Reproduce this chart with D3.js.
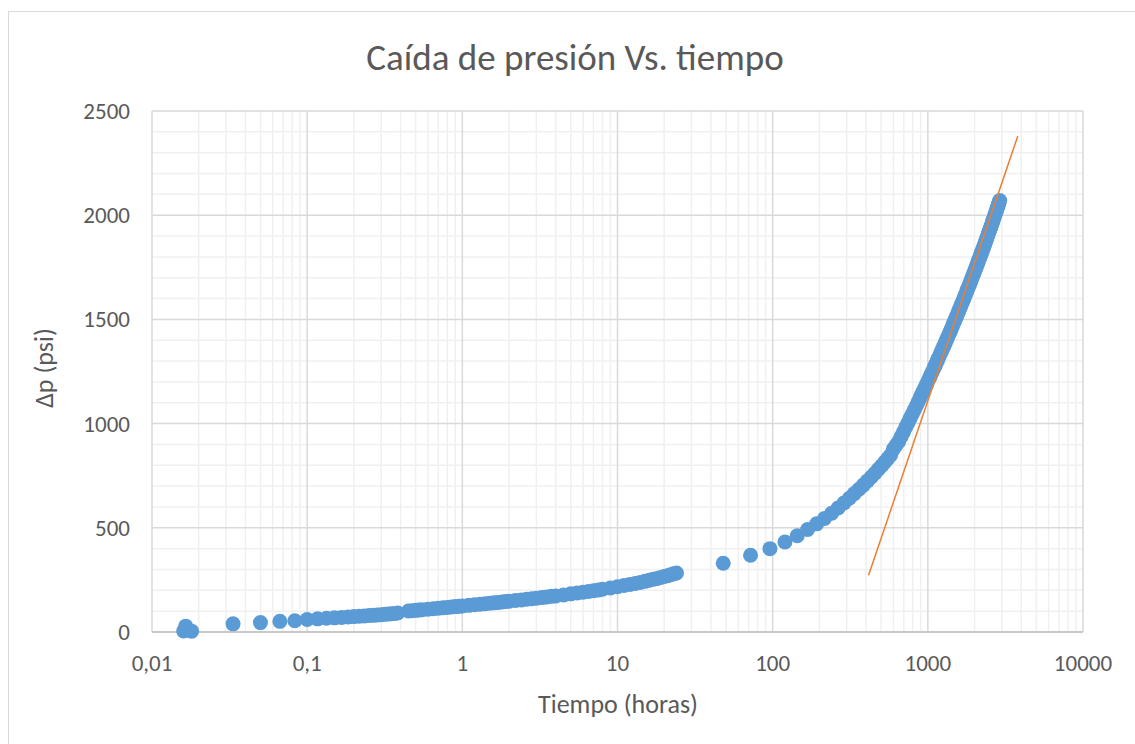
<!DOCTYPE html>
<html>
<head>
<meta charset="utf-8">
<script src="https://cdn.jsdelivr.net/npm/d3@7"></script>
<style>
  body { margin: 0; background: #fff; }
  text { font-family: Calibri, Carlito, Lato, sans-serif; fill: #595959; }
</style>
</head>
<body>
<div id="chart"></div>
<script>
var width = 1135, height = 744

// datos: tiempo (horas) y caida de presion (psi)
var timeHours = [
  0.016, 0.0165, 0.017, 0.018, 0.0333, 0.05, 0.0667, 0.0833,
  0.1, 0.1167, 0.1333, 0.15, 0.1667, 0.1833, 0.2, 0.2167, 0.2333, 0.25, 0.2667, 0.2833, 0.3, 0.3167, 0.3333, 0.35, 0.3667, 0.3833,
  0.45, 0.475, 0.5, 0.525, 0.55, 0.6, 0.65, 0.7, 0.75, 0.8, 0.85, 0.9, 0.95, 1, 1.1, 1.2, 1.3, 1.4, 1.5, 1.6, 1.7, 1.8, 1.9, 2,
  2.2, 2.4, 2.6, 2.8, 3, 3.25, 3.5, 3.75, 4, 4.5, 5, 5.5, 6, 6.5, 7, 7.5, 8, 9, 10, 11, 12, 13, 14, 15, 16, 17, 18, 19, 20, 21, 22, 23, 24,
  48, 72, 96, 120, 144, 168, 192, 216, 240, 264, 288, 312, 336, 360, 384, 408, 432, 456, 480, 504, 528, 552, 576,
  600, 624, 648, 672, 696, 720, 744, 768, 792, 816, 840, 864, 888, 912, 936, 960, 984, 1008, 1032, 1056, 1080, 1104, 1128, 1152,
  1176, 1200, 1224, 1248, 1272, 1296, 1320, 1344, 1368, 1392, 1416, 1440, 1464, 1488, 1512, 1536, 1560, 1584, 1608, 1632, 1656,
  1680, 1704, 1728, 1752, 1776, 1800, 1824, 1848, 1872, 1896, 1920, 1944, 1968, 1992, 2016, 2040, 2064, 2088, 2112, 2136, 2160,
  2184, 2208, 2232, 2256, 2280, 2304, 2328, 2352, 2376, 2400, 2424, 2448, 2472, 2496, 2520, 2544, 2568, 2592, 2616, 2640, 2664,
  2688, 2712, 2736, 2760, 2784, 2808, 2832, 2856, 2880, 2904
]
var deltaP = [
  5, 28, 10, 4, 39, 45, 51, 54,
  60, 63, 66, 68, 70, 72, 74, 76, 77, 79, 80, 82, 83, 85, 86, 88, 89, 91,
  101, 102, 104, 105, 107, 109, 112, 114, 116, 118, 120, 122, 123, 125, 128, 131, 133, 136, 138, 140, 142, 144, 146, 148,
  151, 154, 157, 160, 162, 165, 168, 171, 173, 178, 183, 187, 191, 194, 198, 201, 205, 211, 217, 223, 228, 233, 238, 243, 248, 253, 257, 262, 266, 270, 275, 279, 283,
  330, 368, 400, 432, 462, 492, 519, 545, 570, 595, 619, 642, 664, 685, 705, 725, 744, 762, 781, 798, 816, 832, 849,
  878, 896, 913, 937, 959, 982, 1003, 1024, 1044, 1064, 1083, 1102, 1121, 1139, 1157, 1174, 1191, 1208, 1224, 1240, 1256, 1272, 1287, 1302,
  1317, 1332, 1346, 1360, 1374, 1388, 1402, 1415, 1428, 1441, 1454, 1467, 1480, 1492, 1504, 1517, 1529, 1541, 1552, 1564, 1576,
  1587, 1598, 1610, 1621, 1632, 1643, 1654, 1664, 1675, 1685, 1696, 1706, 1717, 1727, 1737, 1747, 1757, 1767, 1777, 1787, 1796,
  1806, 1815, 1825, 1834, 1844, 1853, 1862, 1872, 1881, 1890, 1899, 1908, 1917, 1926, 1934, 1943, 1952, 1961, 1969, 1978, 1986,
  1995, 2003, 2012, 2020, 2029, 2037, 2045, 2053, 2061, 2070
]

// linea de tendencia (extremos)
var trendTime = [415, 3800]
var trendDp = [272, 2380]

var xTicks = [0.01, 0.1, 1, 10, 100, 1000, 10000]
var yTicks = [0, 500, 1000, 1500, 2000, 2500]

var svg = d3.select("#chart")
    .append("svg")
    .attr("width", width)
    .attr("height", height)

svg.append("rect")
    .attr("x", 8.5).attr("y", 11.5)
    .attr("width", 1140).attr("height", 760)
    .style("fill", "#fff")
    .style("stroke", "#d9d9d9")

var x = d3.scaleLog().domain([0.01, 10000]).range([152, 1083])
var y = d3.scaleLinear().domain([0, 2500]).range([632, 111])

var locale = d3.formatLocale({decimal: ",", thousands: ".", grouping: [3], currency: ["", ""]})
var fmt = locale.format("~g")

// rejilla menor
var minorX = x.ticks().filter(d => xTicks.indexOf(d) < 0)
svg.append("g").selectAll("line")
    .data(minorX)
    .enter().append("line")
    .attr("x1", d => x(d)).attr("x2", d => x(d))
    .attr("y1", y(0)).attr("y2", y(2500))
    .style("stroke", "#f0f0f0").style("stroke-width", 1.5)

var minorY = d3.range(0, 2501, 100).filter(d => d % 500 != 0)
svg.append("g").selectAll("line")
    .data(minorY)
    .enter().append("line")
    .attr("x1", x(0.01)).attr("x2", x(10000))
    .attr("y1", d => y(d)).attr("y2", d => y(d))
    .style("stroke", "#f0f0f0").style("stroke-width", 1.5)

// rejilla mayor
svg.append("g").selectAll("line")
    .data(xTicks)
    .enter().append("line")
    .attr("x1", d => x(d)).attr("x2", d => x(d))
    .attr("y1", y(0)).attr("y2", y(2500))
    .style("stroke", "#d9d9d9").style("stroke-width", 1.5)

svg.append("g").selectAll("line")
    .data(yTicks)
    .enter().append("line")
    .attr("x1", x(0.01)).attr("x2", x(10000))
    .attr("y1", d => y(d)).attr("y2", d => y(d))
    .style("stroke", "#d9d9d9").style("stroke-width", 1.5)

svg.append("line")
    .attr("x1", x(0.01)).attr("x2", x(10000))
    .attr("y1", y(0)).attr("y2", y(0))
    .style("stroke", "#bfbfbf").style("stroke-width", 1.5)

// etiquetas de ejes
svg.append("g").selectAll("text")
    .data(xTicks)
    .enter().append("text")
    .attr("x", d => x(d)).attr("y", 671)
    .attr("text-anchor", "middle")
    .style("font-size", "23px")
    .text(d => fmt(d))

svg.append("g").selectAll("text")
    .data(yTicks)
    .enter().append("text")
    .attr("x", 130).attr("y", d => y(d))
    .attr("dy", "0.35em")
    .attr("text-anchor", "end")
    .style("font-size", "23px")
    .text(d => fmt(d))

// puntos
var pts = timeHours.map((t, i) => ({t: t, p: deltaP[i]}))
svg.append("g").selectAll("circle")
    .data(pts)
    .enter().append("circle")
    .attr("cx", d => x(d.t))
    .attr("cy", d => y(d.p))
    .attr("r", 7.5)
    .style("fill", "#5b9bd5")

// tendencia
svg.append("path")
    .datum(trendTime.map((t, i) => [t, trendDp[i]]))
    .attr("d", d3.line().x(d => x(d[0])).y(d => y(d[1])))
    .style("fill", "none")
    .style("stroke", "#ed7d31")
    .style("stroke-width", 1.5)

// titulos
svg.append("text")
    .attr("x", 575).attr("y", 70)
    .attr("text-anchor", "middle")
    .style("font-size", "37px")
    .style("font-weight", 300)
    .text("Caída de presión Vs. tiempo")

svg.append("text")
    .attr("x", 618).attr("y", 713)
    .attr("text-anchor", "middle")
    .style("font-size", "26px")
    .text("Tiempo (horas)")

svg.append("text")
    .attr("transform", "translate(53,368) rotate(-90)")
    .attr("text-anchor", "middle")
    .style("font-size", "26px")
    .text("Δp (psi)")
</script>
</body>
</html>
